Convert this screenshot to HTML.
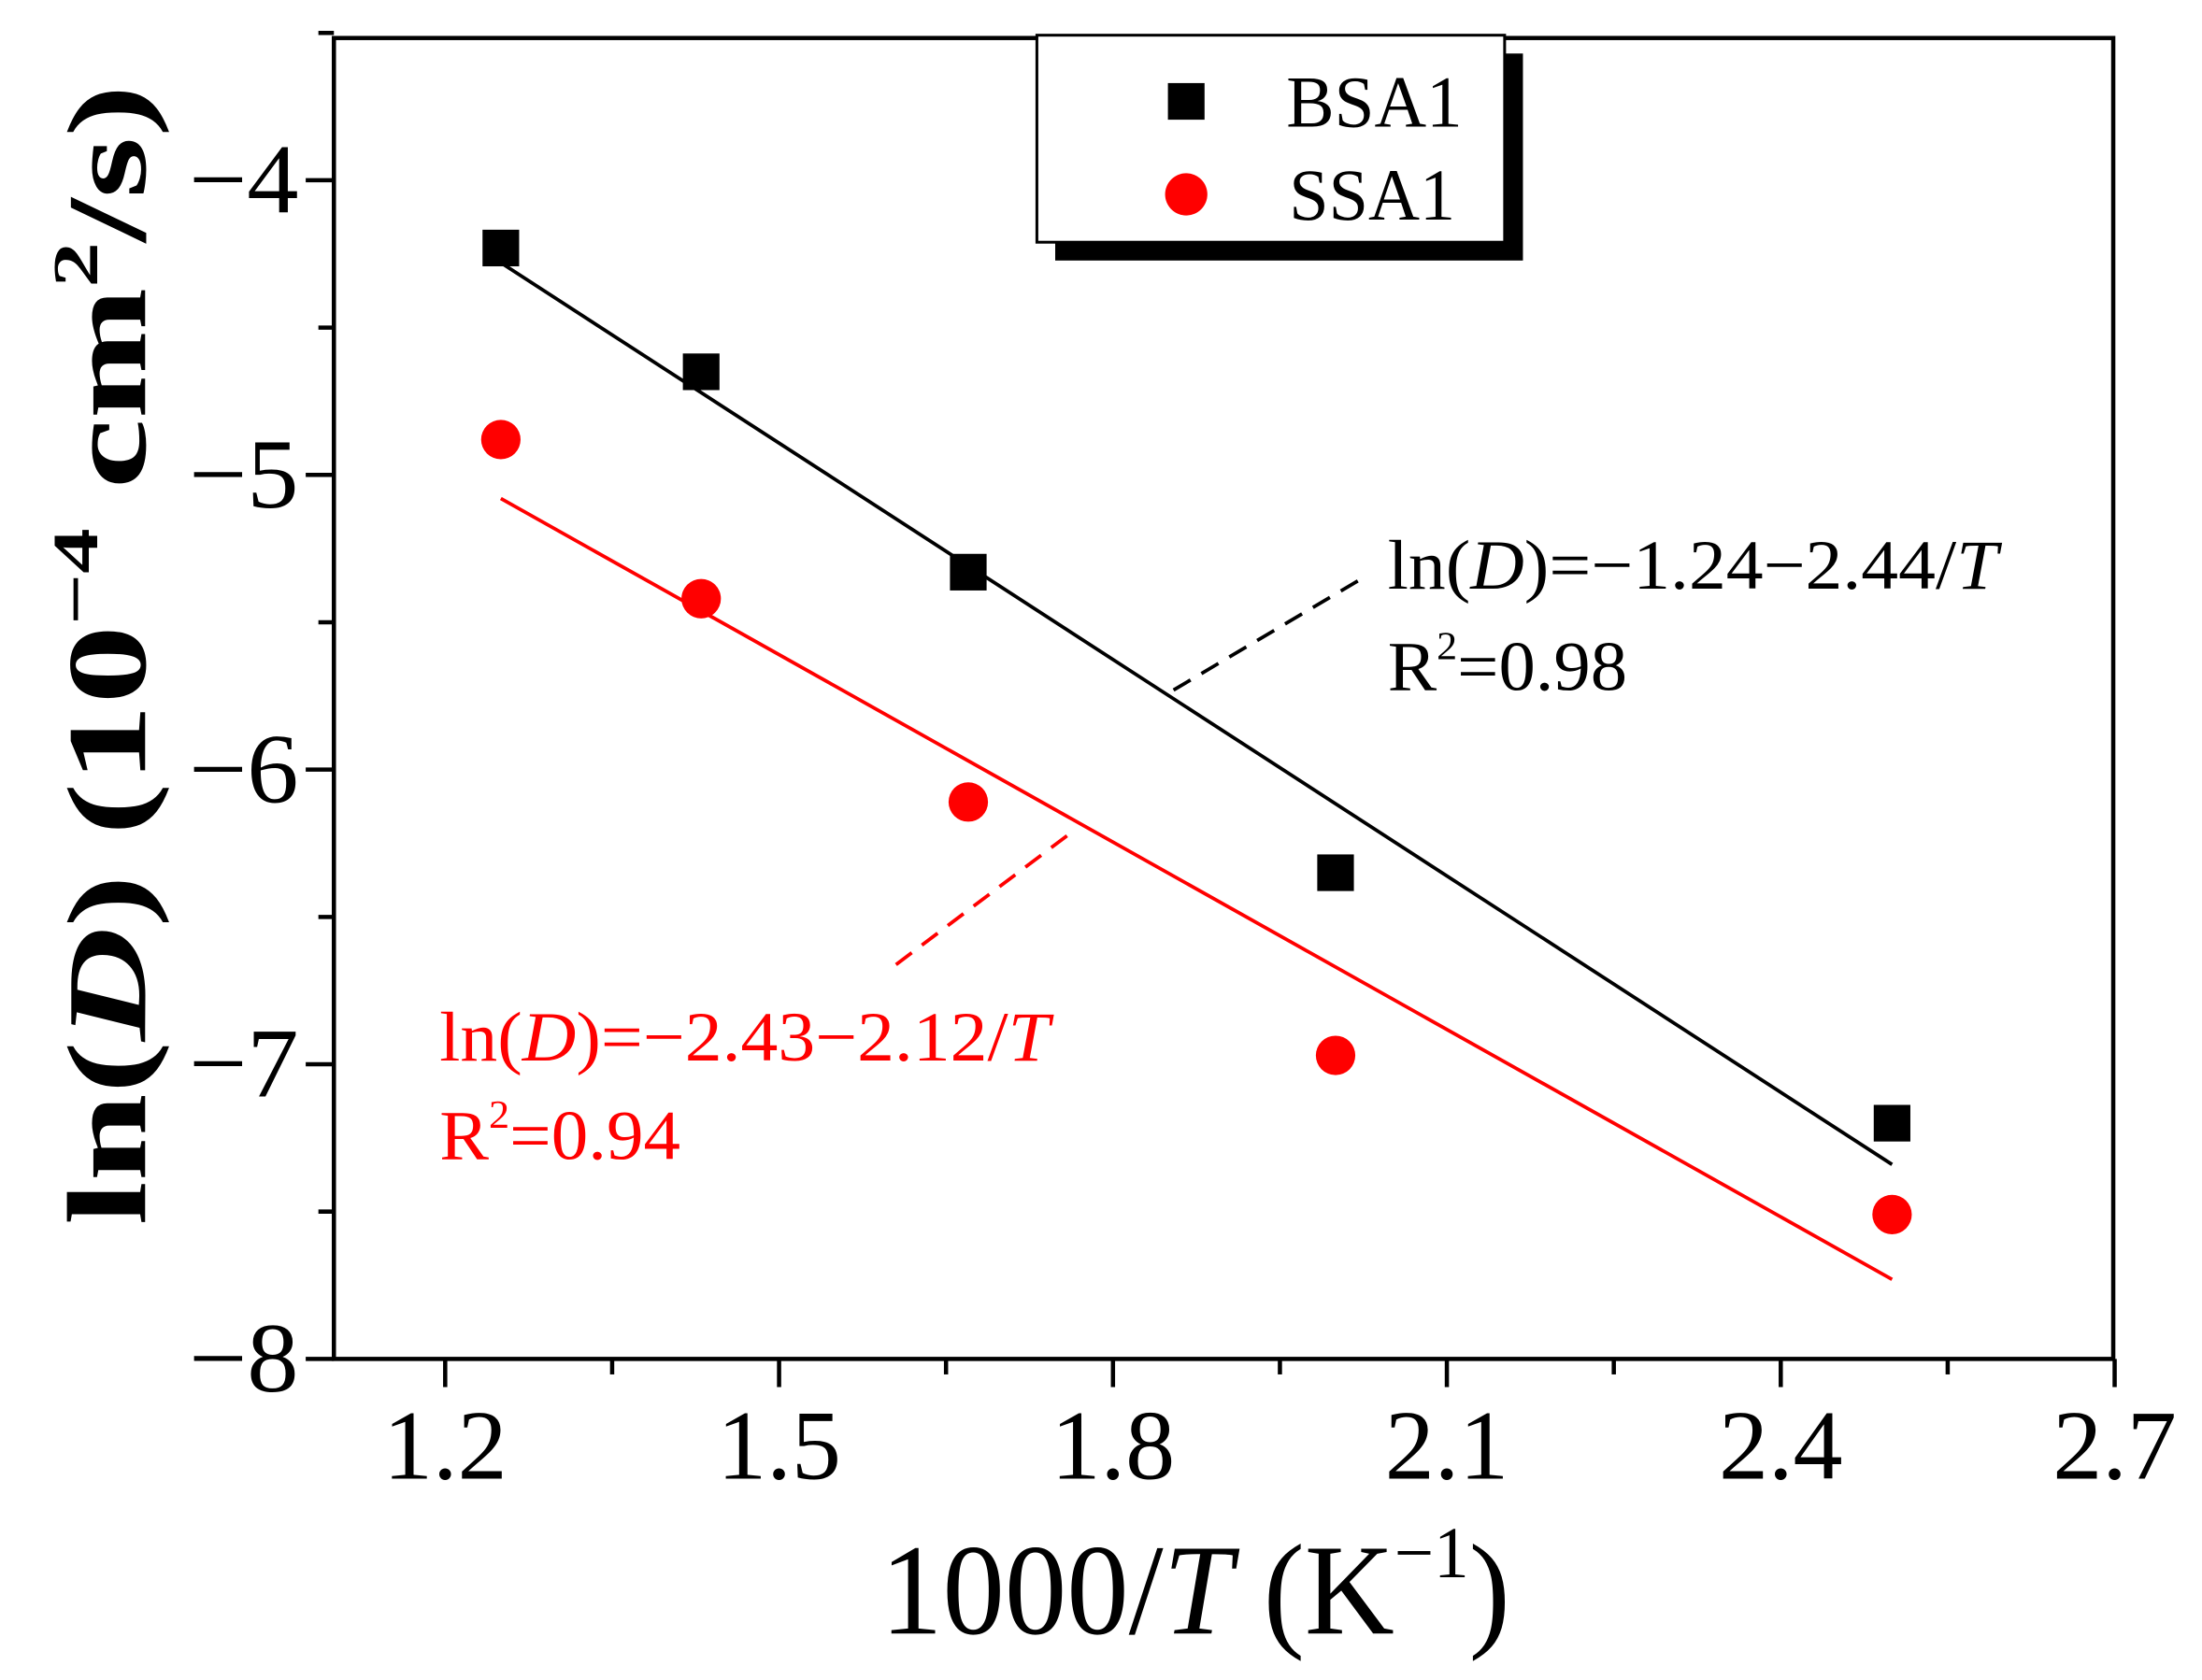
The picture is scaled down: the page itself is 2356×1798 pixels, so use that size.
<!DOCTYPE html>
<html><head><meta charset="utf-8"><style>
html,body{margin:0;padding:0;background:#fff;}
svg{display:block;font-family:"Liberation Serif",serif;}
</style></head><body>
<svg id="chart" width="2356" height="1798" viewBox="0 0 1563 1193" preserveAspectRatio="none" xmlns="http://www.w3.org/2000/svg">
<g id="g"></g>
</svg>
<script>
const bsaX = [1.25, 1.43, 1.67, 2.0, 2.5];
const bsaY = [-4.23, -4.65, -5.33, -6.35, -7.2];
const ssaX = [1.25, 1.43, 1.67, 2.0, 2.5];
const ssaY = [-4.88, -5.42, -6.11, -6.97, -7.51];
const bsaFitX = [1.25, 2.5];
const bsaFitY = [-4.28, -7.34];
const ssaFitX = [1.25, 2.5];
const ssaFitY = [-5.08, -7.73];
const xTicks = [1.2, 1.5, 1.8, 2.1, 2.4, 2.7];
const xTickLabels = ["1.2", "1.5", "1.8", "2.1", "2.4", "2.7"];
const yTicks = [-4, -5, -6, -7, -8];
const yTickLabels = ["\u22124", "\u22125", "\u22126", "\u22127", "\u22128"];

const L = 237, R = 1500, T = 27, B = 965;
const x = v => 316 + (v - 1.2) / 0.1 * 79;
const y = v => 128 + (-4 - v) * 209.25;
const NS = "http://www.w3.org/2000/svg";
const g = document.getElementById('g');
function mk(tag, attrs, parent) {
  const e = document.createElementNS(NS, tag);
  for (const k in attrs) e.setAttribute(k, attrs[k]);
  (parent || g).appendChild(e);
  return e;
}
// axes frame
let e = mk('rect', {x: L, y: T, width: R - L, height: B - T, fill: 'none', stroke: '#000', 'stroke-width': 3});


// x ticks
xTicks.forEach((v, i) => {
  let t = mk('line', {x1: x(v), x2: x(v), y1: B, y2: B + 20, stroke: '#000', 'stroke-width': 3});
  
  
  if (i < xTicks.length - 1) {
    let m = mk('line', {x1: x(v + 0.15), x2: x(v + 0.15), y1: B, y2: B + 11, stroke: '#000', 'stroke-width': 3});
    
    
  }
  let lb = mk('text', {x: x(v), y: 1050, 'text-anchor': 'middle', 'font-size': 70, textLength: 88, lengthAdjust: 'spacingAndGlyphs'});
  lb.textContent = xTickLabels[i];
  
  
});
// y ticks
yTicks.forEach((v, i) => {
  let t = mk('line', {x1: L - 20, x2: L, y1: y(v), y2: y(v), stroke: '#000', 'stroke-width': 3});
  
  
  let m = mk('line', {x1: L - 11, x2: L, y1: y(v + 0.5), y2: y(v + 0.5), stroke: '#000', 'stroke-width': 3});
  
  
  let lb = mk('text', {x: 212, y: y(v) + 23, 'text-anchor': 'end', 'font-size': 70, textLength: 78, lengthAdjust: 'spacingAndGlyphs'});
  lb.textContent = yTickLabels[i];
  
  
});
// fit lines
let f1 = mk('line', {x1: x(bsaFitX[0]), y1: y(bsaFitY[0]), x2: x(bsaFitX[1]), y2: y(bsaFitY[1]), stroke: '#000', 'stroke-width': 2.5});


let f2 = mk('line', {x1: x(ssaFitX[0]), y1: y(ssaFitY[0]), x2: x(ssaFitX[1]), y2: y(ssaFitY[1]), stroke: '#f00', 'stroke-width': 2.5});


// markers
bsaX.forEach((v, i) => {
  let s = mk('rect', {x: x(v) - 13, y: y(bsaY[i]) - 13, width: 26, height: 26, fill: '#000'});
  
  
});
ssaX.forEach((v, i) => {
  let c = mk('circle', {cx: x(v), cy: y(ssaY[i]), r: 14, fill: '#f00'});
  
  
});
</script>
<script>
// static annotations (in same svg)
(function(){
const NS = "http://www.w3.org/2000/svg";
const svg = document.getElementById('chart');
svg.insertAdjacentHTML('beforeend', `
<g>
  <rect x="749" y="38" width="332" height="147" fill="#000"/>
  <rect x="736" y="25" width="332" height="147" fill="#fff" stroke="#000" stroke-width="2"/>
  <rect x="829" y="59" width="26" height="26" fill="#000"/>
  <text x="913" y="90" font-size="52" textLength="125" lengthAdjust="spacingAndGlyphs">BSA1</text>
  <circle cx="842" cy="138" r="15" fill="#f00"/>
  <text x="915" y="156" font-size="52" textLength="118" lengthAdjust="spacingAndGlyphs">SSA1</text>
</g>
<line x1="833" y1="490" x2="968" y2="410" stroke="#000" stroke-width="2.5" stroke-dasharray="14,9"/>
<line x1="636" y1="685" x2="762" y2="590" stroke="#f00" stroke-width="2.5" stroke-dasharray="14,9"/>
<text x="985" y="418" font-size="50" textLength="433" lengthAdjust="spacingAndGlyphs">ln(<tspan font-style="italic">D</tspan>)=−1.24−2.44/<tspan font-style="italic">T</tspan></text>
<text x="985" y="490" font-size="50" textLength="170" lengthAdjust="spacingAndGlyphs">R<tspan font-size="28" dy="-22">2</tspan><tspan dy="22">=0.98</tspan></text>
<text x="312" y="753" font-size="50" fill="#f00" textLength="433" lengthAdjust="spacingAndGlyphs">ln(<tspan font-style="italic">D</tspan>)=−2.43−2.12/<tspan font-style="italic">T</tspan></text>
<text x="312" y="823" font-size="50" fill="#f00" textLength="171" lengthAdjust="spacingAndGlyphs">R<tspan font-size="28" dy="-22">2</tspan><tspan dy="22">=0.94</tspan></text>
<text x="625" y="1160" font-size="92" textLength="447" lengthAdjust="spacingAndGlyphs">1000/<tspan font-style="italic">T</tspan> (K<tspan font-size="52" dy="-40">−1</tspan><tspan dy="40">)</tspan></text>
<text transform="translate(103,870) rotate(-90)" font-size="80" font-weight="bold" textLength="810" lengthAdjust="spacingAndGlyphs">ln(<tspan font-style="italic">D</tspan>) (10<tspan font-size="46" dy="-34">−4</tspan><tspan dy="34"> cm</tspan><tspan font-size="46" dy="-34">2</tspan><tspan dy="34">/s)</tspan></text>
`);
})();
</script>
</body></html>
